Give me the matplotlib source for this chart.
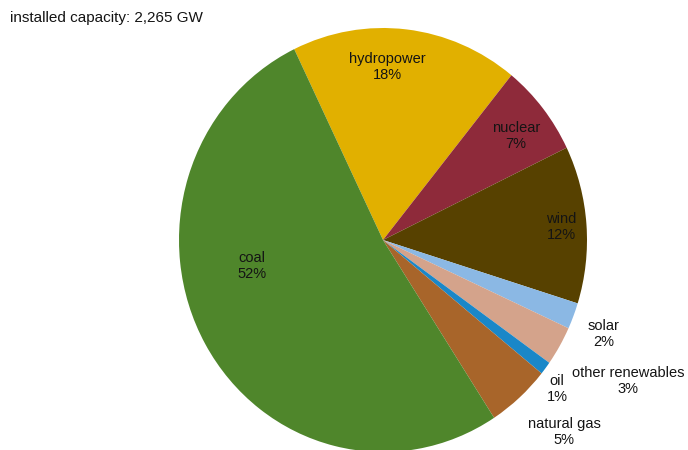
import matplotlib.pyplot as plt

plt.rcParams["font.family"] = ["Liberation Sans", "DejaVu Sans"]

sources = ["hydropower", "nuclear", "wind", "solar", "other renewables",
           "oil", "natural gas", "coal"]
shares = [18, 7, 12, 2, 3, 1, 5, 52]
colors = ["#e1b000", "#8e2a3a", "#574100", "#8bb8e4", "#d4a38b",
          "#1a87c8", "#a8652a", "#4f862b"]
# where each label block is centred, in pixels from the top-left corner
label_pos = [(387, 67), (516, 136), (561, 227), (604, 334), (628, 381),
             (557, 389), (564, 432), (252, 266)]
title = "installed capacity: 2,265 GW"

W, H = 688, 450
CX, CY = 383, 240      # pie centre in pixels
RX, RY = 204, 212      # slightly taller than wide


def px(x, y):
    # pixel position -> data coords of the unit pie
    return (x - CX) / RX, (CY - y) / RY


fig = plt.figure(figsize=(W / 100, H / 100), dpi=100)
ax = fig.add_axes([0, 0, 1, 1])

ax.pie(shares, colors=colors, startangle=115.8, counterclock=False,
       wedgeprops={"linewidth": 0})
ax.set_aspect("auto")
ax.set_xlim(px(0, 0)[0], px(W, 0)[0])
ax.set_ylim(px(0, H)[1], px(0, 0)[1])
ax.axis("off")

for name, share, (x, y) in zip(sources, shares, label_pos):
    tx, ty = px(x, y)
    ax.text(tx, ty, f"{name}\n{share}%", ha="center", va="center",
            fontsize=10.5, color="#141414", linespacing=1.2)

fig.text(10 / W, 1 - 18 / H, title, ha="left", va="center",
         fontsize=11, color="#141414")

fig.savefig("out.png", dpi=100)
